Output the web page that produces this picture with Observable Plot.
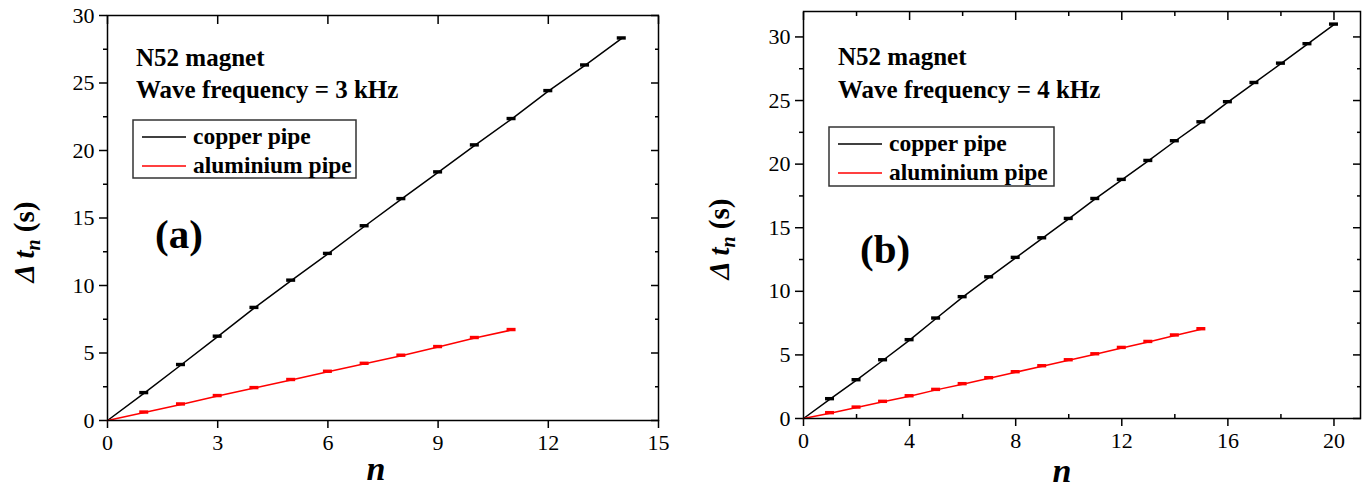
<!DOCTYPE html>
<html><head><meta charset="utf-8">
<script src="https://cdn.jsdelivr.net/npm/d3@7"></script>
<script src="https://cdn.jsdelivr.net/npm/@observablehq/plot@0.6"></script>
<style>
body{margin:0;background:#fff;}
#wrap{display:flex;width:1372px;height:492px;}
.panel{width:686px;height:492px;}
svg, svg text{font-family:"Liberation Serif","Times New Roman",Times,serif !important;}
</style>
</head><body><div id="wrap"><div class="panel" id="pa"></div><div class="panel" id="pb"></div></div>
<script>
// Panel (a): 3 kHz
const nA_cu = [0,1,2,3,4,5,6,7,8,9,10,11,12,13,14];
const tA_cu = [0,2.03,4.11,6.21,8.34,10.36,12.34,14.39,16.4,18.38,20.38,22.33,24.4,26.3,28.3];
const nA_al = [0,1,2,3,4,5,6,7,8,9,10,11];
const tA_al = [0,0.59,1.19,1.81,2.40,3.0,3.61,4.2,4.8,5.44,6.11,6.7];
// Panel (b): 4 kHz
const nB_cu = [0,1,2,3,4,5,6,7,8,9,10,11,12,13,14,15,16,17,18,19,20];
const tB_cu = [0,1.52,3.01,4.58,6.16,7.86,9.54,11.1,12.63,14.17,15.69,17.26,18.76,20.25,21.8,23.29,24.87,26.38,27.9,29.43,30.97];
const nB_al = [0,1,2,3,4,5,6,7,8,9,10,11,12,13,14,15];
const tB_al = [0,0.42,0.86,1.31,1.75,2.25,2.70,3.17,3.64,4.11,4.58,5.05,5.55,6.02,6.53,7.02];

const xTicksA = [0,3,6,9,12,15];
const xTicksB = [0,4,8,12,16,20];
const xMinorB = [2,6,10,14,18];
const yTicks = [0,5,10,15,20,25,30];
const yMinor = [2.5,7.5,12.5,17.5,22.5,27.5];
const seriesNames = ["copper pipe","aluminium pipe"];
const seriesColors = ["black","#ff0000"];

const zip = (ns, ts) => ns.map((n,i)=>({n, t: ts[i]}));
const FONT = "'Liberation Serif','Times New Roman',Times,serif";

function panel(cfg){
  const cu = zip(cfg.nCu, cfg.tCu), al = zip(cfg.nAl, cfg.tAl);
  const plot = Plot.plot({
    width: 686, height: 492,
    marginLeft: cfg.ml, marginRight: cfg.mr, marginTop: cfg.mt, marginBottom: cfg.mb,
    style: {fontFamily: FONT, fontSize: "22px", background: "white", color: "black", overflow: "visible"},
    x: {domain: cfg.xDomain, nice: false},
    y: {domain: cfg.yDomain, nice: false},
    marks: [
      Plot.axisX(cfg.xTicks, {anchor: "bottom", tickSize: 8, tickPadding: 6, strokeWidth: 1.5, label: null, fontSize: 22}),
      Plot.axisX(cfg.xMinor, {anchor: "bottom", tickSize: -4, strokeWidth: 1.5, text: null, label: null}),
      Plot.axisX(cfg.xTicks, {anchor: "top", tickSize: -8, strokeWidth: 1.5, text: null, label: null}),
      Plot.axisX(cfg.xMinor, {anchor: "top", tickSize: -4, strokeWidth: 1.5, text: null, label: null}),
      Plot.axisY(yTicks, {anchor: "left", tickSize: 8, tickPadding: 5, strokeWidth: 1.5, label: null, fontSize: 22}),
      Plot.axisY(yMinor, {anchor: "left", tickSize: 4, strokeWidth: 1.5, text: null, label: null}),
      Plot.axisY(yTicks, {anchor: "right", tickSize: -8, strokeWidth: 1.5, text: null, label: null}),
      Plot.axisY(yMinor, {anchor: "right", tickSize: -4, strokeWidth: 1.5, text: null, label: null}),
      Plot.line(cu, {x: "n", y: "t", stroke: seriesColors[0], strokeWidth: 1.5}),
      Plot.line(al, {x: "n", y: "t", stroke: seriesColors[1], strokeWidth: 1.5}),
      Plot.rect(cu.slice(1), {x1: "n", x2: "n", y1: "t", y2: "t", insetLeft: -4.5, insetRight: -4.5, insetTop: -1.7, insetBottom: -1.7, fill: seriesColors[0]}),
      Plot.rect(al.slice(1), {x1: "n", x2: "n", y1: "t", y2: "t", insetLeft: -4.5, insetRight: -4.5, insetTop: -1.7, insetBottom: -1.7, fill: seriesColors[1]}),
      Plot.frame({stroke: "black", strokeWidth: 1.5})
    ]
  });
  const svg = d3.select(plot);
  const g = svg.append("g").attr("font-family", FONT).attr("fill", "black").attr("text-anchor", "start");
  // y label
  const yl = g.append("text").attr("transform", `translate(${cfg.ylx},${cfg.yly}) rotate(-90)`)
    .attr("text-anchor", "middle").attr("font-size", 29).attr("font-weight", "bold");
  yl.append("tspan").attr("font-style", "italic").text("Δ");
  yl.append("tspan").attr("font-style", "italic").text(" t");
  yl.append("tspan").attr("font-style", "italic").attr("font-size", 20).attr("dy", 6).text("n");
  yl.append("tspan").attr("dy", -6).text(" (s)");
  // x label
  g.append("text").attr("x", 376).attr("y", cfg.xly).attr("text-anchor", "middle")
    .attr("font-size", 34).attr("font-weight", "bold").attr("font-style", "italic").text("n");
  // annotations
  g.append("text").attr("x", cfg.ax).attr("y", cfg.ay1).attr("font-size", 25).attr("font-weight", "bold").text("N52 magnet");
  g.append("text").attr("x", cfg.ax).attr("y", cfg.ay2).attr("font-size", 25).attr("font-weight", "bold").text(cfg.freq);
  g.append("text").attr("x", cfg.px).attr("y", cfg.py).attr("font-size", 41).attr("font-weight", "bold").text(cfg.tag);
  // legend
  const L = cfg.leg;
  g.append("rect").attr("x", L.x).attr("y", L.y).attr("width", L.w).attr("height", L.h)
    .attr("fill", "white").attr("stroke", "#333").attr("stroke-width", 1.5);
  seriesNames.forEach((name, i) => {
    const yy = L.y + L.l0 + i * L.dy;
    g.append("line").attr("x1", L.x + 9).attr("x2", L.x + 53).attr("y1", yy).attr("y2", yy)
      .attr("stroke", seriesColors[i]).attr("stroke-width", 1.5);
    g.append("text").attr("x", L.x + 60).attr("y", yy + 7).attr("font-size", 23.5).attr("font-weight", "bold").text(name);
  });
  return plot;
}

document.getElementById("pa").appendChild(panel({
  nCu: nA_cu, tCu: tA_cu, nAl: nA_al, tAl: tA_al,
  xDomain: [0,15], yDomain: [0,30], xTicks: xTicksA, xMinor: [],
  ml: 107, mr: 28, mt: 15, mb: 72,
  ylx: 34, yly: 242, xly: 480,
  ax: 136, ay1: 66, ay2: 98, freq: "Wave frequency = 3 kHz",
  px: 155, py: 248, tag: "(a)",
  leg: {x: 133, y: 120, w: 223, h: 58, l0: 17, dy: 29}
}));
document.getElementById("pb").appendChild(panel({
  nCu: nB_cu, tCu: tB_cu, nAl: nB_al, tAl: tB_al,
  xDomain: [0,21], yDomain: [0,32], xTicks: xTicksB, xMinor: xMinorB,
  ml: 117, mr: 12, mt: 11, mb: 74,
  ylx: 43, yly: 239, xly: 482,
  ax: 152, ay1: 65, ay2: 98, freq: "Wave frequency = 4 kHz",
  px: 174, py: 263, tag: "(b)",
  leg: {x: 143, y: 127, w: 225, h: 59, l0: 17, dy: 29}
}));
</script></body></html>
